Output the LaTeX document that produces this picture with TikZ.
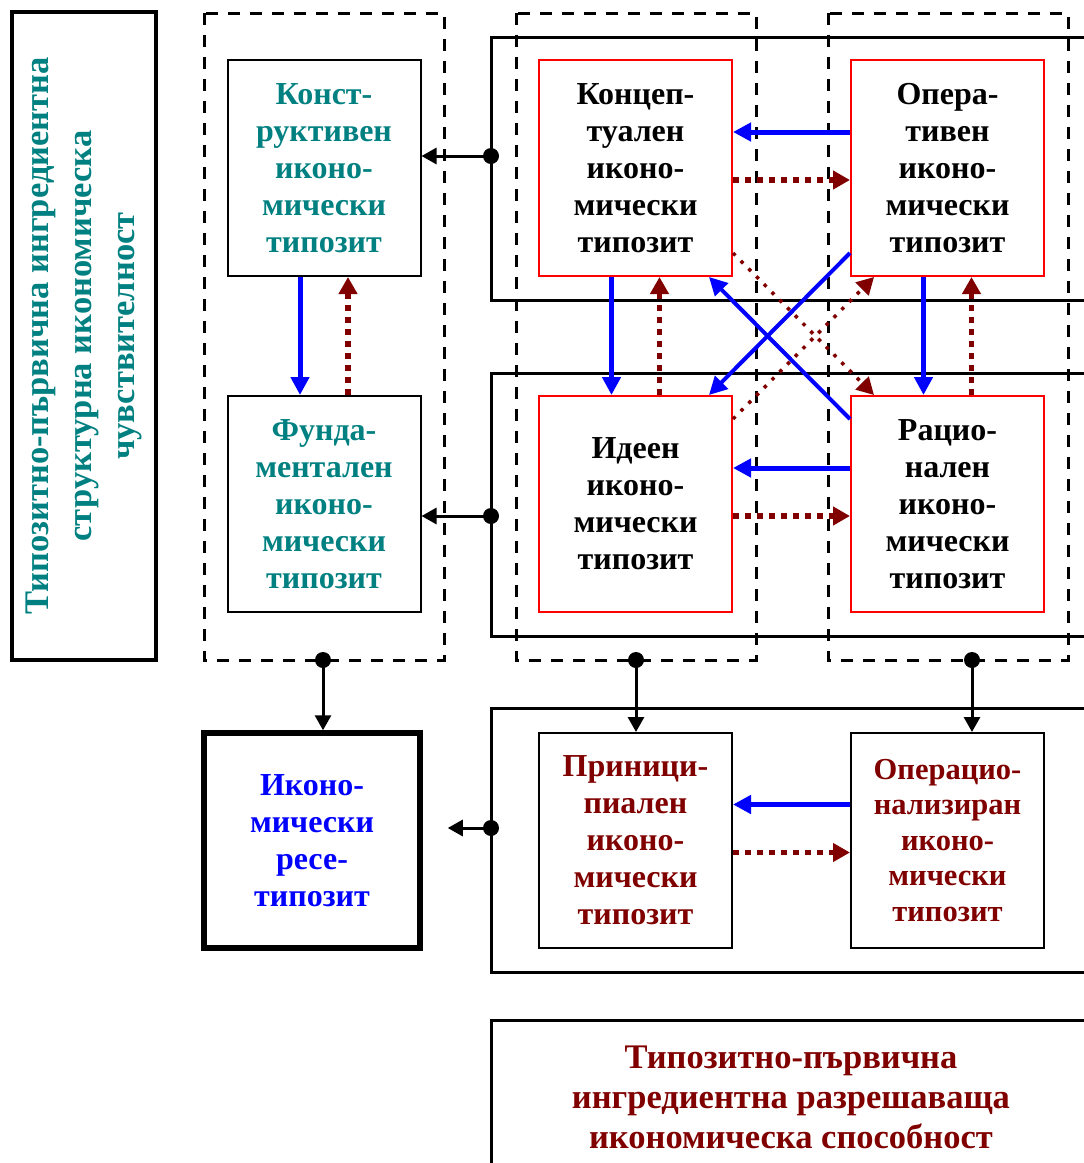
\documentclass[tikz,border=0pt]{standalone}
\usepackage{fontspec}
\setmainfont{Liberation Serif}
\usetikzlibrary{arrows.meta}
\definecolor{tealtxt}{RGB}{0,128,128}
\definecolor{darkred}{RGB}{128,0,0}
\tikzset{
BOX/.style={draw=black,line width=2pt,minimum width=193pt,minimum height=216pt,inner sep=0pt,align=center,font=\fontsize{32}{37}\selectfont\bfseries},
REDBOX/.style={BOX,draw=red},
REGION/.style={draw=black,line width=3pt,dash pattern=on 12pt off 10pt},
FRAME/.style={draw=black,line width=3pt},
LINK/.style={draw=black,line width=3pt,-{Triangle[length=15pt,width=16pt]}},
BLUEARC/.style={draw=blue,line width=5pt,-{Triangle[length=18pt,width=18pt]}},
REDARC/.style={draw=darkred,line width=5.5pt,dash pattern=on 6pt off 6pt,-{Triangle[length=17pt,width=18pt]}},
BLUEDIAG/.style={BLUEARC,line width=4pt},
REDDIAG/.style={REDARC,line width=3.5pt,dash pattern=on 3.5pt off 7.5pt},
}
\begin{document}
\begin{tikzpicture}[x=1pt,y=-1pt]
	\useasboundingbox (0,0) rectangle (1084,1163);
	\clip (0,0) rectangle (1084,1163);
	%left caption
	\node[draw,line width=4pt,rotate=90,minimum width=648pt,minimum height=144pt,inner sep=0pt,align=center,text=tealtxt,font=\fontsize{34.5}{43}\selectfont\bfseries] (sense) at (84,336)
		{Типозитно-първична ингредиентна\\структурна икономическа\\чувствителност};
	%regions
	\path[REGION] (204,13) rectangle (444,660);
	\path[REGION] (516,13) rectangle (756,660);
	\path[REGION] (828,13) rectangle (1068,660);
	\foreach \y/\h in {37/300,373/636,708/972} \path[FRAME] (491,\y) rectangle (1100,\h);
	%types
	\node[BOX,text=tealtxt] (konst) at (324,168) {Конст-\\руктивен\\иконо-\\мически\\типозит};
	\node[BOX,text=tealtxt] (fund) at (324,504) {Фунда-\\ментален\\иконо-\\мически\\типозит};
	\node[REDBOX] (koncep) at (635.5,168) {Концеп-\\туален\\иконо-\\мически\\типозит};
	\node[REDBOX] (opera) at (947.5,168) {Опера-\\тивен\\иконо-\\мически\\типозит};
	\node[REDBOX] (ideen) at (635.5,504) {Идеен\\иконо-\\мически\\типозит};
	\node[REDBOX] (racio) at (947.5,504) {Рацио-\\нален\\иконо-\\мически\\типозит};
	\node[BOX,line width=5.5pt,minimum width=216pt,minimum height=215pt,text=blue] (ikono) at (312,840.5) {Иконо-\\мически\\ресе-\\типозит};
	\node[BOX,minimum height=215pt,text=darkred] (princ) at (635.5,840.5) {Приници-\\пиален\\иконо-\\мически\\типозит};
	\node[BOX,minimum height=215pt,text=darkred,font=\fontsize{30.5}{35.5}\selectfont\bfseries] (operac) at (947.5,840.5) {Операцио-\\нализиран\\иконо-\\мически\\типозит};
	\node[FRAME,minimum width=600pt,minimum height=155pt,align=center,text=darkred,font=\fontsize{34.5}{40}\selectfont\bfseries] (goal) at (791,1097.5)
		{Типозитно-първична\\ингредиентна разрешаваща\\икономическа способност};
	%links
	\foreach \n/\x/\y in {dA/491/156,dB/491/516,dC/491/828,dD/323/660,dE/636/660,dF/972/660} {
		\coordinate (\n) at (\x,\y);
		\fill (\n) circle (8pt);
	}
	\draw[LINK] (dA) -- (konst.east |- dA);
	\draw[LINK] (dB) -- (fund.east |- dB);
	\draw[LINK] (dC) -- ([xshift=25pt]ikono.east |- dC);
	\draw[LINK] (dD) -- (dD |- ikono.north);
	\draw[LINK] (dE) -- (dE |- princ.north);
	\draw[LINK] (dF) -- (dF |- operac.north);
	%vertical pairs
	\foreach \a/\b in {konst/fund,koncep/ideen,opera/racio} {
		\draw[BLUEARC] ([xshift=-24pt]\a.south) -- ([xshift=-24pt]\b.north);
		\draw[REDARC] ([xshift=24pt]\b.north) -- ([xshift=24pt]\a.south);
	}
	%horizontal pairs
	\foreach \a/\b in {koncep/opera,ideen/racio,princ/operac} {
		\draw[BLUEARC] ([yshift=36pt]\b.west) -- ([yshift=36pt]\a.east);
		\draw[REDARC] ([yshift=-12pt]\a.east) -- ([yshift=-12pt]\b.west);
	}
	%cross
	\draw[BLUEDIAG] ([yshift=24pt]opera.south west) -- ([xshift=-24pt]ideen.north east);
	\draw[BLUEDIAG] ([yshift=-24pt]racio.north west) -- ([xshift=-24pt]koncep.south east);
	\draw[REDDIAG] ([yshift=24pt]koncep.south east) -- ([xshift=24pt]racio.north west);
	\draw[REDDIAG] ([yshift=-24pt]ideen.north east) -- ([xshift=24pt]opera.south west);
\end{tikzpicture}
\end{document}
